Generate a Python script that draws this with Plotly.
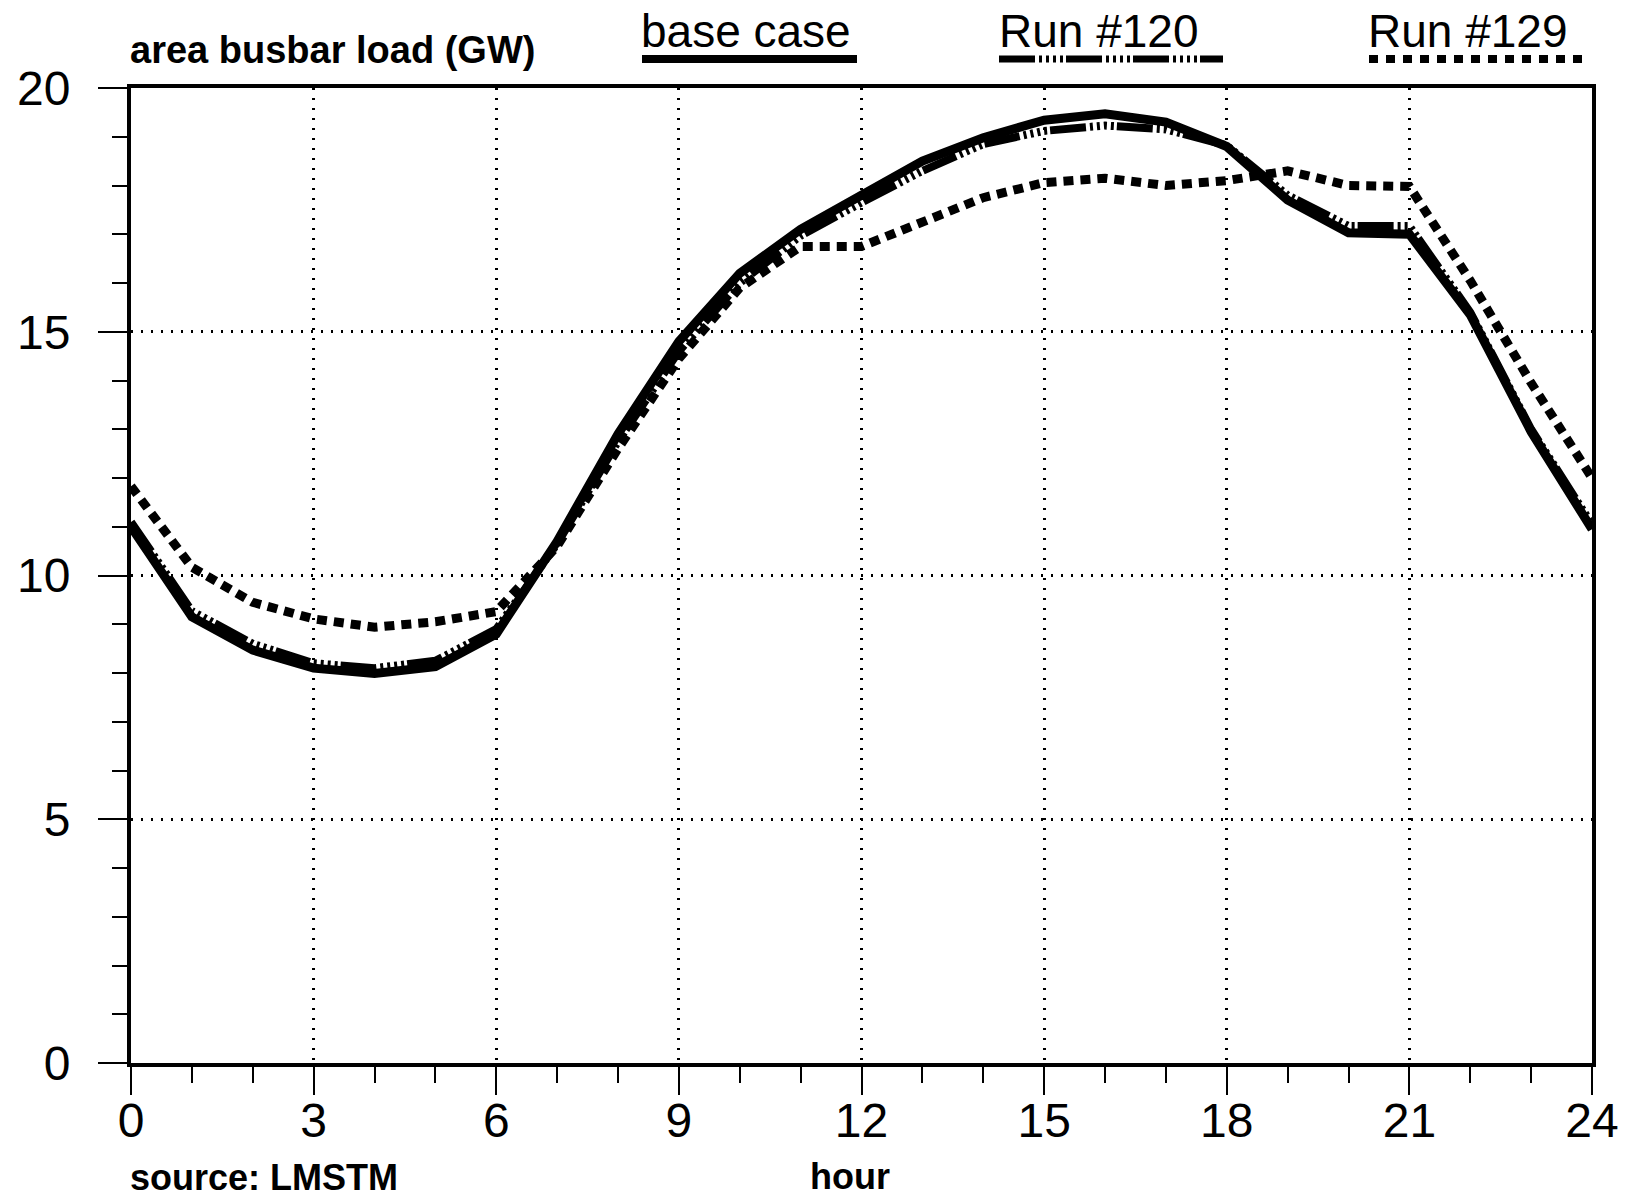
import plotly.graph_objects as go

# Hourly area busbar load (GW) for the three cases
hours = list(range(25))
base_case = [11.0, 9.15, 8.47, 8.1, 7.99, 8.13, 8.8, 10.7, 12.9, 14.8, 16.2, 17.1, 17.8,
             18.5, 18.98, 19.34, 19.47, 19.3, 18.8, 17.7, 17.03, 17.0, 15.35, 12.95, 10.95]
run_120 = [11.1, 9.27, 8.6, 8.2, 8.1, 8.25, 8.9, 10.65, 12.75, 14.6, 16.0, 16.97, 17.65,
           18.3, 18.85, 19.12, 19.23, 19.15, 18.82, 17.8, 17.17, 17.17, 15.4, 13.0, 11.05]
run_129 = [11.83, 10.17, 9.45, 9.11, 8.94, 9.05, 9.26, 10.6, 12.6, 14.45, 15.9, 16.75, 16.75,
           17.25, 17.75, 18.06, 18.15, 18.0, 18.1, 18.3, 18.0, 17.98, 16.05, 13.95, 12.0]

x_ticks = [0, 3, 6, 9, 12, 15, 18, 21, 24]
y_ticks = [0, 5, 10, 15, 20]

series_names = ["base case", "Run #120", "Run #129"]

FONT = "Liberation Sans, Arial, sans-serif"
INK = "black"

# dash patterns: solid, long dash + short ticks, square dots
DASH_BASE = "solid"
DASH_120 = "36px,4px,3px,4px,3px,4px,3px,4px,3px,3px"
DASH_129 = "10px,7px"
DASH_129_KEY = "9px,8px"

# plot-area geometry in pixels (used to place the header and legend samples)
W, H = 1632, 1200
L, R, T, B = 131, 40, 88, 137
X0, X1 = L, W - R
Y0, Y1 = T, H - B


def px(x):
    return (x - X0) / (X1 - X0)


def py(y):
    return (Y1 - y) / (Y1 - Y0)


fig = go.Figure()
fig.add_trace(go.Scatter(x=hours, y=run_129, mode="lines", name=series_names[2],
                         line=dict(color=INK, width=9, dash=DASH_129)))
fig.add_trace(go.Scatter(x=hours, y=base_case, mode="lines", name=series_names[0],
                         line=dict(color=INK, width=9, dash=DASH_BASE)))
fig.add_trace(go.Scatter(x=hours, y=run_120, mode="lines", name=series_names[1],
                         line=dict(color=INK, width=8, dash=DASH_120)))

axis_common = dict(
    showline=True, linecolor=INK, linewidth=4, mirror=True,
    showgrid=True, gridcolor=INK, gridwidth=2.5, griddash="2px,8px",
    zeroline=False, ticks="outside", tickcolor=INK, tickwidth=2,
    tickfont=dict(family=FONT, size=48, color=INK),
)

fig.update_xaxes(
    range=[0, 24], tickvals=x_ticks, ticktext=[str(v) for v in x_ticks],
    ticklen=28, ticklabelstandoff=-16,
    minor=dict(dtick=1, tick0=0, ticks="outside", ticklen=16, tickwidth=2,
               tickcolor=INK, showgrid=False),
    **axis_common,
)
fig.update_yaxes(
    range=[0, 20], tickvals=y_ticks, ticktext=[str(v) for v in y_ticks],
    ticklen=29, ticklabelstandoff=18,
    minor=dict(dtick=1, tick0=0, ticks="outside", ticklen=15, tickwidth=2,
               tickcolor=INK, showgrid=False),
    **axis_common,
)

annotations = [
    dict(text="<b>area busbar load (GW)</b>", x=px(128), y=py(50), xanchor="left",
         yanchor="middle", font=dict(family=FONT, size=38, color=INK)),
    dict(text="<b>source: LMSTM</b>", x=px(128), y=py(1177), xanchor="left",
         yanchor="middle", font=dict(family=FONT, size=36, color=INK)),
    dict(text="<b>hour</b>", x=px(850), y=py(1176), xanchor="center",
         yanchor="middle", font=dict(family=FONT, size=36, color=INK)),
]

# legend: label above a sample of each line style
legend_items = [
    (series_names[0], 639, 642, 857, DASH_BASE, 8),
    (series_names[1], 997, 999, 1223, DASH_120, 7),
    (series_names[2], 1366, 1369, 1584, DASH_129_KEY, 8),
]
shapes = []
for name, tx, lx0, lx1, dash, lw in legend_items:
    annotations.append(dict(text=name, x=px(tx), y=py(31), xanchor="left", yanchor="middle",
                            font=dict(family=FONT, size=46, color=INK)))
    shapes.append(dict(type="line", xref="paper", yref="paper",
                       x0=px(lx0), x1=px(lx1), y0=py(59), y1=py(59),
                       line=dict(color=INK, width=lw, dash=dash)))

for a in annotations:
    a.update(xref="paper", yref="paper", showarrow=False)

fig.update_layout(
    width=W, height=H,
    margin=dict(l=L, r=R, t=T, b=B),
    paper_bgcolor="white", plot_bgcolor="white",
    showlegend=False,
    annotations=annotations,
    shapes=shapes,
)

fig.write_html("out.html")
